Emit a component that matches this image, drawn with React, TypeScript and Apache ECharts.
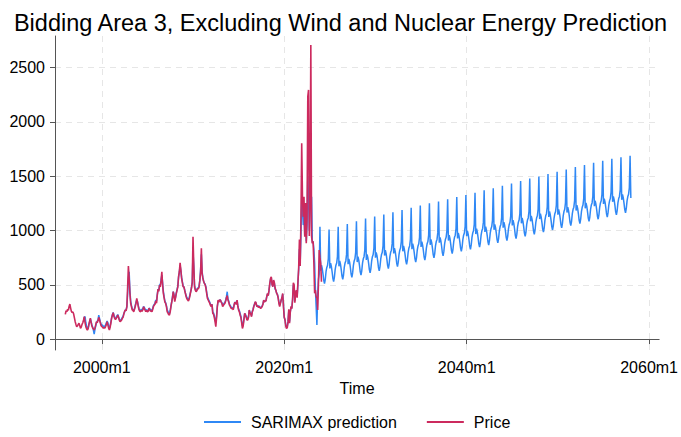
import React, { useEffect, useRef } from "react";
import * as echarts from "echarts";

// Monthly values; Price starts 1996m1, SARIMAX prediction starts 1998m1
const priceStart = 1996;
const sarimaxStart = 1998;

const priceValues: number[] = [
  // 1996
  228, 262, 250, 275, 265, 300, 322, 285, 255, 245, 250, 230,
  // 1997
  195, 160, 135, 114, 120, 135, 145, 125, 100, 110, 135, 150,
  // 1998
  175, 206, 150, 114, 95, 83, 95, 135, 165, 193, 150, 120,
  // 1999
  101, 95, 83, 100, 130, 160, 150, 170, 200, 175, 150, 125,
  // 2000
  114, 110, 100, 105, 101, 115, 135, 160, 130, 100, 83, 110,
  // 2001
  150, 195, 221, 243, 210, 190, 180, 190, 205, 221, 200, 175,
  // 2002
  160, 165, 175, 190, 200, 230, 255, 270, 260, 298, 480, 672,
  // 2003
  560, 420, 330, 300, 270, 265, 250, 275, 300, 330, 375, 340,
  // 2004
  300, 270, 255, 252, 267, 255, 270, 298, 280, 265, 252, 265,
  // 2005
  250, 255, 282, 275, 255, 260, 250, 275, 300, 313, 320, 350,
  // 2006
  330, 405, 460, 440, 498, 480, 540, 620, 500, 420, 380, 340,
  // 2007
  329, 300, 252, 240, 225, 221, 250, 300, 340, 380, 436, 400,
  // 2008
  344, 380, 420, 451, 480, 574, 620, 703, 640, 559, 520, 480,
  // 2009
  482, 450, 420, 390, 370, 359, 350, 370, 400, 436, 470, 520,
  // 2010
  943, 680, 482, 450, 436, 445, 467, 460, 480, 540, 620, 836,
  // 2011
  600, 559, 530, 513, 500, 470, 420, 375, 360, 344, 330, 310,
  // 2012
  298, 320, 237, 230, 200, 160, 114, 200, 300, 359, 340, 360,
  // 2013
  359, 340, 330, 298, 310, 320, 329, 350, 380, 400, 360, 340,
  // 2014
  313, 300, 285, 280, 282, 270, 310, 340, 330, 320, 359, 300,
  // 2015
  267, 250, 220, 200, 150, 98, 120, 180, 237, 220, 200, 175,
  // 2016
  175, 200, 267, 240, 230, 206, 250, 270, 300, 320, 344, 330,
  // 2017
  298, 310, 290, 300, 290, 282, 290, 300, 320, 359, 340, 350,
  // 2018
  350, 390, 420, 400, 450, 513, 559, 574, 500, 482, 543, 520,
  // 2019
  470, 450, 421, 410, 380, 330, 300, 330, 359, 380, 420, 300,
  // 2020
  200, 175, 120, 98, 104, 160, 274, 147, 250, 300, 280, 366,
  // 2021
  519, 500, 335, 420, 450, 380, 520, 650, 918, 673, 1100, 1803,
  // 2022
  1311, 1127, 1311, 943, 1253, 882, 1100, 2233, 2295, 949, 1300, 2709,
  // 2023
  943, 882, 900, 700, 421, 450, 390, 380, 267, 500, 820, 750,
  // 2024
  697, 528,
];

const sarimaxValues: number[] = [
  // 1998
  160, 200, 206, 150, 120, 100, 95, 130, 160, 185, 160, 130,
  // 1999
  110, 80, 46, 90, 120, 150, 165, 175, 221, 190, 160, 140,
  // 2000
  125, 130, 110, 120, 115, 130, 150, 165, 150, 120, 100, 120,
  // 2001
  160, 200, 225, 245, 220, 200, 185, 200, 215, 225, 205, 185,
  // 2002
  170, 175, 185, 200, 210, 235, 250, 265, 270, 300, 420, 560,
  // 2003
  620, 450, 350, 310, 280, 270, 260, 280, 310, 340, 360, 345,
  // 2004
  310, 280, 260, 262, 275, 265, 280, 300, 290, 275, 265, 270,
  // 2005
  260, 262, 285, 280, 265, 270, 262, 285, 310, 320, 330, 360,
  // 2006
  350, 410, 460, 450, 500, 500, 545, 590, 520, 440, 390, 350,
  // 2007
  335, 310, 270, 255, 240, 235, 260, 305, 345, 390, 436, 410,
  // 2008
  360, 385, 425, 455, 490, 570, 615, 680, 630, 570, 530, 490,
  // 2009
  480, 455, 425, 400, 380, 370, 365, 380, 410, 440, 475, 530,
  // 2010
  800, 680, 500, 460, 445, 450, 470, 470, 490, 545, 640, 780,
  // 2011
  620, 565, 535, 515, 505, 480, 430, 390, 370, 355, 340, 320,
  // 2012
  305, 320, 250, 240, 215, 180, 150, 210, 300, 350, 345, 360,
  // 2013
  360, 345, 335, 310, 320, 330, 340, 360, 390, 436, 370, 350,
  // 2014
  320, 310, 295, 290, 290, 280, 315, 340, 335, 325, 355, 305,
  // 2015
  275, 260, 235, 210, 165, 120, 135, 185, 235, 225, 210, 185,
  // 2016
  185, 210, 265, 245, 235, 215, 255, 275, 305, 325, 340, 330,
  // 2017
  300, 310, 295, 305, 295, 290, 295, 305, 325, 355, 345, 350,
  // 2018
  355, 390, 415, 405, 450, 505, 550, 565, 505, 485, 535, 515,
  // 2019
  460, 450, 425, 410, 385, 340, 310, 335, 360, 380, 415, 315,
  // 2020
  200, 180, 135, 110, 115, 160, 260, 160, 250, 295, 285, 360,
  // 2021
  500, 490, 350, 420, 445, 390, 510, 640, 829, 700, 950, 1300,
  // 2022
  1200, 1050, 1150, 950, 1150, 900, 1050, 1500, 1300, 1000, 1200, 1250,
  // 2023
  1311, 887, 900, 829, 700, 460, 300, 129, 400, 550, 600, 1035,
  // 2024
  630, 680, 650, 600, 540, 510, 550, 620, 660, 680, 740, 1010,
  // 2025
  650, 700, 670, 620, 560, 530, 570, 640, 680, 700, 760, 1035,
  // 2026
  670, 720, 690, 640, 580, 550, 590, 660, 700, 720, 780, 1060,
  // 2027
  689, 739, 709, 659, 599, 569, 609, 679, 719, 739, 799, 1085,
  // 2028
  709, 759, 729, 679, 619, 589, 629, 699, 739, 759, 819, 1110,
  // 2029
  729, 779, 749, 699, 639, 609, 649, 719, 759, 779, 839, 1128,
  // 2030
  749, 799, 769, 719, 659, 629, 669, 739, 779, 799, 859, 1148,
  // 2031
  769, 819, 789, 739, 679, 649, 689, 759, 799, 819, 879, 1168,
  // 2032
  788, 838, 808, 758, 698, 668, 708, 778, 818, 838, 898, 1188,
  // 2033
  808, 858, 828, 778, 718, 688, 728, 798, 838, 858, 918, 1210,
  // 2034
  828, 878, 848, 798, 738, 708, 748, 818, 858, 878, 938, 1230,
  // 2035
  848, 898, 868, 818, 758, 728, 768, 838, 878, 898, 958, 1250,
  // 2036
  868, 918, 888, 838, 778, 748, 788, 858, 898, 918, 978, 1268,
  // 2037
  887, 937, 907, 857, 797, 767, 807, 877, 917, 937, 997, 1288,
  // 2038
  907, 957, 927, 877, 817, 787, 827, 897, 937, 957, 1017, 1308,
  // 2039
  927, 977, 947, 897, 837, 807, 847, 917, 957, 977, 1037, 1328,
  // 2040
  947, 997, 967, 917, 857, 827, 867, 937, 977, 997, 1057, 1348,
  // 2041
  967, 1017, 987, 937, 877, 847, 887, 957, 997, 1017, 1077, 1370,
  // 2042
  986, 1036, 1006, 956, 896, 866, 906, 976, 1016, 1036, 1096, 1390,
  // 2043
  1006, 1056, 1026, 976, 916, 886, 926, 996, 1036, 1056, 1116, 1412,
  // 2044
  1026, 1076, 1046, 996, 936, 906, 946, 1016, 1056, 1076, 1136, 1434,
  // 2045
  1046, 1096, 1066, 1016, 956, 926, 966, 1036, 1076, 1096, 1156, 1456,
  // 2046
  1066, 1116, 1086, 1036, 976, 946, 986, 1056, 1096, 1116, 1176, 1478,
  // 2047
  1085, 1135, 1105, 1055, 995, 965, 1005, 1075, 1115, 1135, 1195, 1498,
  // 2048
  1105, 1155, 1125, 1075, 1015, 985, 1025, 1095, 1135, 1155, 1215, 1520,
  // 2049
  1125, 1175, 1145, 1095, 1035, 1005, 1045, 1115, 1155, 1175, 1235, 1542,
  // 2050
  1145, 1195, 1165, 1115, 1055, 1025, 1065, 1135, 1175, 1195, 1255, 1563,
  // 2051
  1165, 1215, 1185, 1135, 1075, 1045, 1085, 1155, 1195, 1215, 1275, 1584,
  // 2052
  1184, 1234, 1204, 1154, 1094, 1064, 1104, 1174, 1214, 1234, 1294, 1604,
  // 2053
  1204, 1254, 1224, 1174, 1114, 1084, 1124, 1194, 1234, 1254, 1314, 1624,
  // 2054
  1224, 1274, 1244, 1194, 1134, 1104, 1144, 1214, 1254, 1274, 1334, 1643,
  // 2055
  1244, 1294, 1264, 1214, 1154, 1124, 1164, 1234, 1274, 1294, 1354, 1660,
  // 2056
  1264, 1314, 1284, 1234, 1174, 1144, 1184, 1254, 1294, 1314, 1374, 1675,
  // 2057
  1283, 1333, 1303, 1253, 1193, 1163, 1203, 1273, 1313, 1333, 1393, 1689,
  // 2058
  1300,
];

const xTickYears = [2000, 2020, 2040, 2060];
const yTickValues = [0, 500, 1000, 1500, 2000, 2500];

const seriesNames = ["SARIMAX prediction", "Price"];
const BLUE = "#2f88f5";
const RED = "#cc2a5e";
const FONT = "Liberation Sans, Arial, Helvetica, sans-serif";

const toPairs = (start: number, vals: number[]) =>
  vals.map((v, i) => [start + i / 12, v]);

export default function App() {
  const ref = useRef<HTMLDivElement>(null);

  useEffect(() => {
    if (!ref.current) return;
    const chart = echarts.init(ref.current, undefined, { renderer: "svg" });
    const gridLine = {
      show: true,
      lineStyle: { color: "#e6e6e6", width: 1, type: [6, 5] as number[] },
    };
    chart.setOption({
      animation: false,
      backgroundColor: "#ffffff",
      textStyle: { fontFamily: FONT },
      title: {
        text: "Bidding Area 3, Excluding Wind and Nuclear Energy Prediction",
        left: "center",
        top: 6,
        textStyle: {
          fontFamily: FONT,
          fontSize: 23.5,
          fontWeight: "normal",
          color: "#000000",
        },
      },
      grid: { left: 55, right: 20, top: 36, bottom: 87, containLabel: false },
      legend: {
        left: 199,
        top: 409,
        icon: "rect",
        itemWidth: 37,
        itemHeight: 2,
        itemGap: 30,
        textStyle: {
          fontFamily: FONT,
          fontSize: 16,
          color: "#000000",
          padding: [0, 0, 0, 5],
        },
        data: seriesNames,
      },
      xAxis: {
        type: "value",
        min: 1994.87,
        max: 2061.1,
        name: "Time",
        nameLocation: "middle",
        nameGap: 30,
        nameTextStyle: { fontFamily: FONT, fontSize: 16, color: "#000000" },
        axisLine: { show: true, lineStyle: { color: "#555555", width: 1 } },
        axisTick: {
          show: true,
          length: 5,
          customValues: xTickYears,
          lineStyle: { color: "#555555" },
        },
        axisLabel: {
          customValues: xTickYears,
          formatter: (v: number) => `${Math.round(v)}m1`,
          fontFamily: FONT,
          fontSize: 16,
          color: "#000000",
          margin: 9,
        },
        splitLine: gridLine,
      },
      yAxis: {
        type: "value",
        min: -101,
        max: 2792,
        axisLine: { show: true, lineStyle: { color: "#555555", width: 1 } },
        axisTick: {
          show: true,
          length: 5,
          customValues: yTickValues,
          lineStyle: { color: "#555555" },
        },
        axisLabel: {
          customValues: yTickValues,
          formatter: (v: number) => String(Math.round(v)),
          fontFamily: FONT,
          fontSize: 16,
          color: "#000000",
          margin: 10,
        },
        splitLine: gridLine,
      },
      series: [
        {
          name: seriesNames[0],
          type: "line",
          data: toPairs(sarimaxStart, sarimaxValues),
          showSymbol: false,
          symbol: "none",
          lineStyle: { color: BLUE, width: 1.5 },
          itemStyle: { color: BLUE },
          z: 2,
        },
        {
          name: seriesNames[1],
          type: "line",
          data: toPairs(priceStart, priceValues),
          showSymbol: false,
          symbol: "none",
          lineStyle: { color: RED, width: 1.6 },
          itemStyle: { color: RED },
          z: 3,
        },
      ],
    });
    return () => chart.dispose();
  }, []);

  return (
    <div
      ref={ref}
      style={{ position: "fixed", left: 0, top: 0, width: 681, height: 437, background: "#fff" }}
    />
  );
}
